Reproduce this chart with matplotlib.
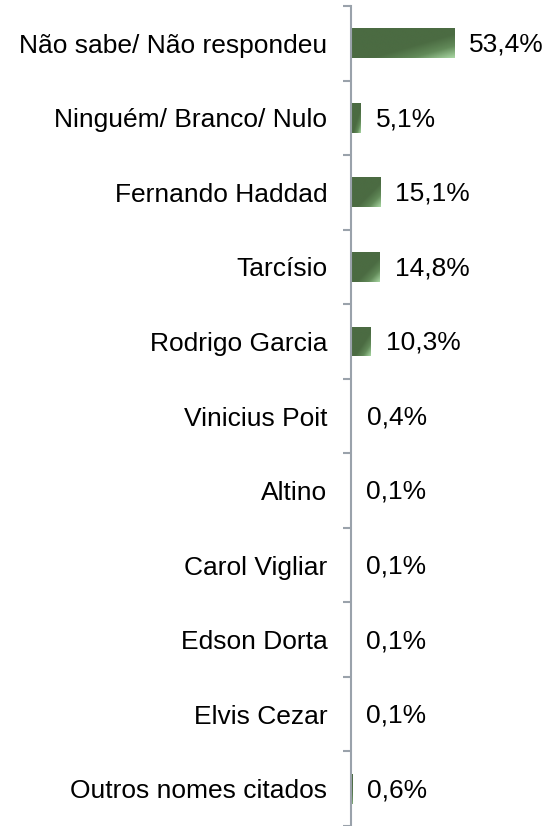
import matplotlib.pyplot as plt
import numpy as np
from matplotlib.colors import LinearSegmentedColormap

plt.rcParams['font.family'] = ['Liberation Sans', 'DejaVu Sans']

categories = ["Não sabe/ Não respondeu", "Ninguém/ Branco/ Nulo", "Fernando Haddad",
              "Tarcísio", "Rodrigo Garcia", "Vinicius Poit", "Altino", "Carol Vigliar",
              "Edson Dorta", "Elvis Cezar", "Outros nomes citados"]
values = [53.4, 5.1, 15.1, 14.8, 10.3, 0.4, 0.1, 0.1, 0.1, 0.1, 0.6]
labels = ["53,4%", "5,1%", "15,1%", "14,8%", "10,3%", "0,4%", "0,1%", "0,1%", "0,1%", "0,1%", "0,6%"]

AXIS_GRAY = "#9aa2ab"
green = LinearSegmentedColormap.from_list(
    "bar_green", [(0.0, "#4b6b42"), (0.6, "#4b6b42"), (0.8, "#628a59"), (1.0, "#a9d7a3")])

fig = plt.figure(figsize=(5.49, 8.26), dpi=100)
ax = fig.add_axes([351 / 549, 0.0, 193 / 549, 1 - 6 / 826])

y = np.arange(len(categories))
bars = ax.barh(y, values, height=0.4, color="#4b6b42", edgecolor="none")

# diagonal gradient on each bar, clipped to the bar rectangle
gx, gy = np.meshgrid(np.linspace(0, 1, 64), np.linspace(0, 1, 64))
grad = (gx + gy) / 2
for bar in bars:
    x0, y0 = bar.get_x(), bar.get_y()
    w, h = bar.get_width(), bar.get_height()
    img = ax.imshow(grad, cmap=green, extent=(x0, x0 + w, y0 + h, y0), origin="upper",
                    aspect="auto", zorder=bar.get_zorder() + 0.1)
    img.set_clip_path(bar)

for yi, v, lab in zip(y, values, labels):
    ax.annotate(lab, (v, yi), xytext=(11, -1), textcoords="offset points",
                va="center", ha="left", fontsize=19, color="black")

ax.set_xlim(0, 100)
ax.set_ylim(len(categories) - 0.5, -0.5)

ax.set_yticks(y)
ax.set_yticklabels(categories, fontsize=19, color="black")
ax.tick_params(axis="y", which="major", length=0, pad=17)
ax.set_yticks(np.arange(-0.5, len(categories)), minor=True)
ax.tick_params(axis="y", which="minor", length=6, width=1.5, color=AXIS_GRAY, direction="out")

ax.set_xticks([])
for side in ["top", "right", "bottom"]:
    ax.spines[side].set_visible(False)
ax.spines["left"].set_color(AXIS_GRAY)
ax.spines["left"].set_linewidth(1.5)
ax.patch.set_alpha(0)

fig.savefig("out.png", dpi=100)
